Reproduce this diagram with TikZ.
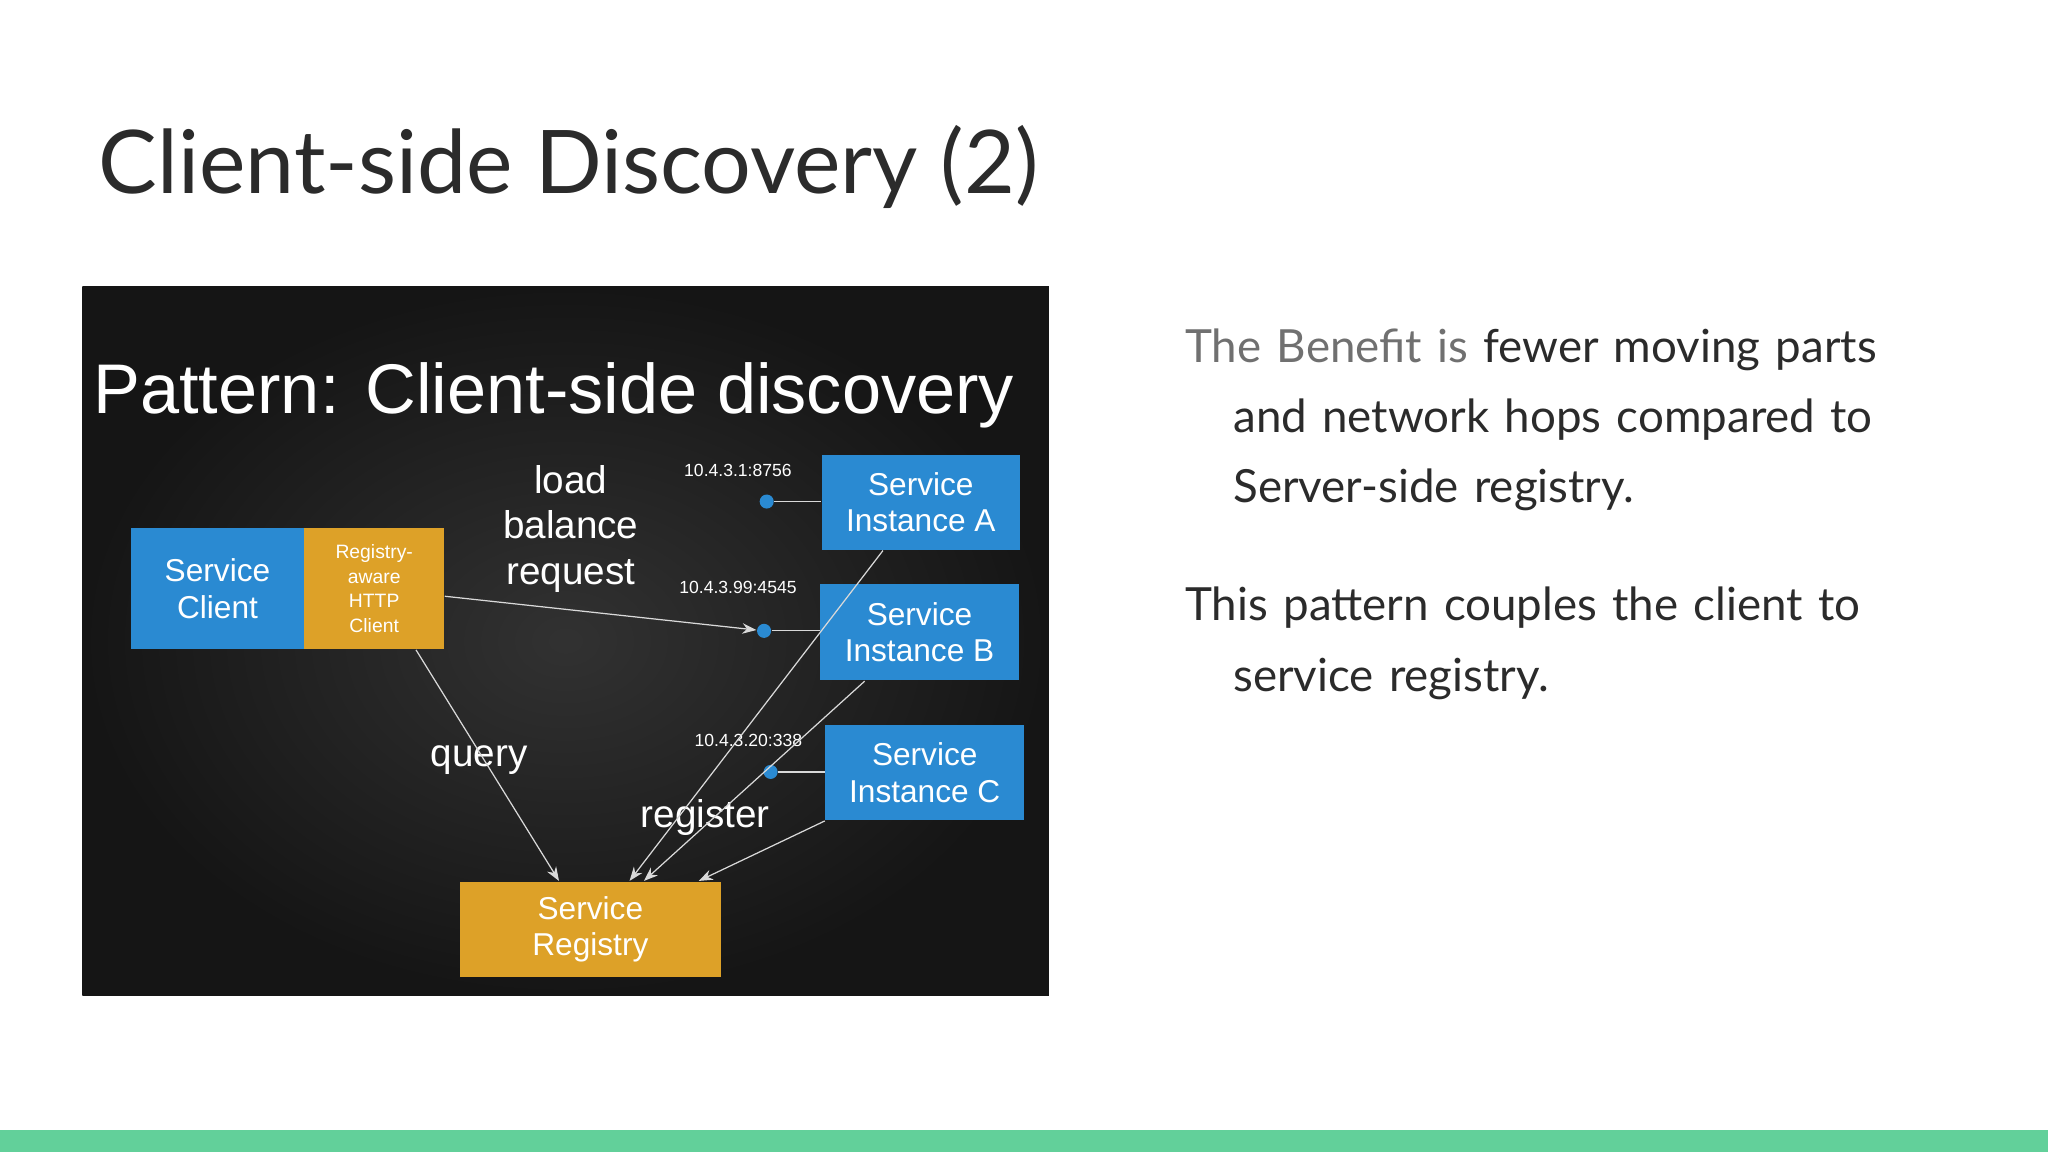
\documentclass[tikz,border=0pt]{standalone}
\usepackage{fontspec}
\setmainfont{Lato}
\newfontfamily\diagfont{Liberation Sans}
\usetikzlibrary{arrows.meta, positioning}
\definecolor{svcBlue}{HTML}{2A8AD2}
\definecolor{regOrange}{HTML}{DDA128}
\definecolor{slideGreen}{HTML}{62D09A}
\definecolor{boardDark}{HTML}{1E1E1E}
\definecolor{textDark}{HTML}{2B2B2B}
\definecolor{textGrey}{HTML}{707070}
\newcommand{\px}{0.013061cm}

\begin{document}
\begin{tikzpicture}[x=\px, y=-\px, >={Stealth[length=4pt, width=3pt]},
    box/.style={text=white, font=\diagfont\fontsize{9}{10.5}\selectfont, align=center, inner sep=0pt},
    wire/.style={white!85!black, line width=0.35pt},
    tap/.style={circle, fill=svcBlue, inner sep=0pt, minimum size=4pt},
    ip/.style={text=white, font=\diagfont\fontsize{5}{6}\selectfont}]
  \useasboundingbox (0,0) rectangle (1568,882);
  \fill[white] (0,0) rectangle (1568,882);
  \fill[slideGreen] (0,865) rectangle (1568,882);
  \node[anchor=west, text=textDark, font=\fontsize{25}{30}\selectfont] (title) at (66,128) {Client-side Discovery (2)};
  % the photo of the pattern
  \shade[inner color=boardDark!80!gray, outer color=boardDark!70!black] (63,219) rectangle (803,762);
  \node[text=white, font=\diagfont\fontsize{20}{24}\selectfont] (ptitle) at (424,303) {Pattern: Client-side discovery};
  \node[box, fill=svcBlue, minimum width=133*\px, minimum height=93*\px] (client) at (166.5,450.5) {Service\\Client};
  \node[box, fill=regOrange, minimum width=107*\px, minimum height=93*\px, font=\diagfont\fontsize{5.5}{7}\selectfont] (http) at (286.5,450.5) {Registry-\\aware\\HTTP\\Client};
  \node[box, fill=svcBlue, minimum width=152*\px, minimum height=73*\px] (instA) at (705,384.5) {Service\\Instance A};
  \node[box, fill=svcBlue, minimum width=152*\px, minimum height=74*\px] (instB) at (704,484) {Service\\Instance B};
  \node[box, fill=svcBlue, minimum width=152*\px, minimum height=73*\px] (instC) at (708,591.5) {Service\\Instance C};
  \node[box, fill=regOrange, minimum width=200*\px, minimum height=73*\px] (registry) at (452,711.5) {Service\\Registry};
  \node[tap] (tapA) at (587,384) {};
  \node[tap] (tapB) at (585,483) {};
  \node[tap] (tapC) at (590,591) {};
  \node[ip] (ipA) at (565,360) {10.4.3.1:8756};
  \node[ip] (ipB) at (565,450) {10.4.3.99:4545};
  \node[ip] (ipC) at (573,567) {10.4.3.20:338};
  \node[text=white, font=\diagfont\fontsize{11}{13}\selectfont, align=center] (lb) at (437,405) {load\\balance\\request};
  \node[text=white, font=\diagfont\fontsize{11}{13}\selectfont] (query) at (367,582) {query};
  \node[text=white, font=\diagfont\fontsize{11}{13}\selectfont] (register) at (540,626) {register};
  \draw[wire] (tapA) -- (instA.west |- tapA);
  \draw[wire] (tapB) -- (instB.west |- tapB);
  \draw[wire] (tapC) -- (instC.west |- tapC);
  \draw[wire, ->] ([yshift=-6*\px]http.east) -- (tapB);
  \draw[wire, ->] ([xshift=32*\px]http.south) -- ([xshift=-24*\px]registry.north);
  \draw[wire, ->] ([xshift=-29*\px]instA.south) -- ([xshift=30*\px]registry.north);
  \draw[wire, ->] ([xshift=-42*\px]instB.south) -- ([xshift=41*\px]registry.north);
  \draw[wire, ->] (instC.south west) -- ([xshift=83*\px]registry.north);
  % right-hand text
  \node[anchor=north west, align=left, text=textDark, font=\fontsize{13}{20}\selectfont, text width=600*\px] (benefit) at (898,242)
    {\textcolor{textGrey}{The Benefit is} fewer moving parts\\\hspace*{1.05em}and network hops compared to\\\hspace*{1.05em}Server-side registry.};
  \node[anchor=north west, align=left, text=textDark, font=\fontsize{13}{20}\selectfont, text width=600*\px] (coupling) at (898,440)
    {This pattern couples the client to\\\hspace*{1.05em}service registry.};
\end{tikzpicture}
\end{document}
